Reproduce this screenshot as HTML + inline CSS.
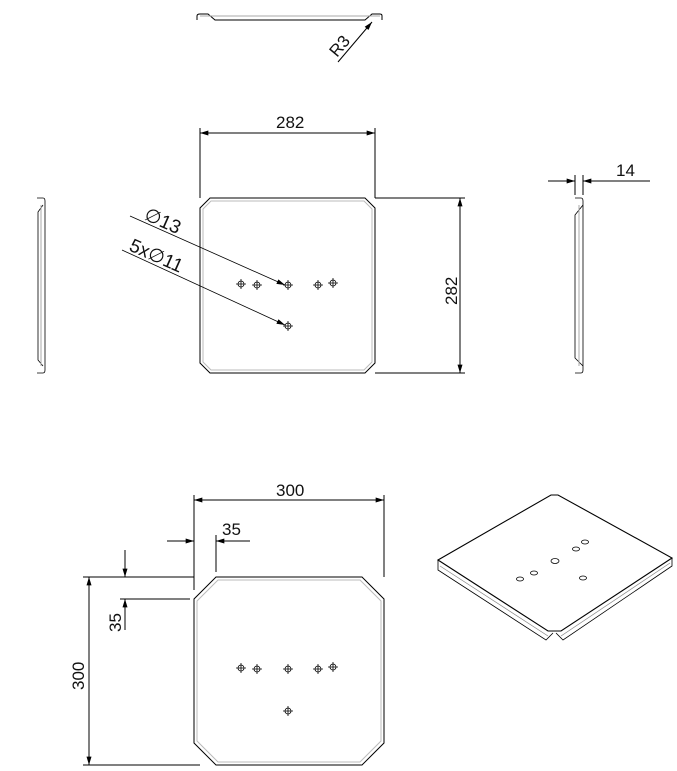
<!DOCTYPE html><html><head><style>body{margin:0;background:#fff}svg{display:block}text{font-family:"Liberation Sans",sans-serif;fill:#111}</style></head><body>
<svg width="677" height="771" viewBox="0 0 677 771" xmlns="http://www.w3.org/2000/svg">
<defs><marker id="a" viewBox="0 0 10 6" refX="10" refY="3" markerWidth="12" markerHeight="5" orient="auto-start-reverse" markerUnits="userSpaceOnUse"><path d="M0,0L10,3L0,6z" fill="#000"/></marker>
<g id="h"><circle r="3" fill="none" stroke="#000" stroke-width="0.8"/><path d="M-5,0H5M0,-5V5" stroke="#000" stroke-width="0.8"/></g></defs>
<g fill="none" stroke="#000" stroke-width="1">
<path d="M197,20V16Q197,14 200,14H208L215,20H365L372,14H380Q382,14 382,16V20" />
<path d="M200,16H380" stroke="#aaa"/>
<path d="M338,62L372,22" marker-end="url(#a)"/>
<path d="M210,198H365L375,208V363L365,373H210L200,363V208Z"/>
<path d="M211,201H364L372,209V362L364,370H211L203,362V209Z" stroke="#bbb"/>
<path d="M200,128V198M375,128V198"/>
<path d="M200,133H375" marker-start="url(#a)" marker-end="url(#a)"/>
<path d="M375,198H465M375,373H465"/>
<path d="M460,198V373" marker-start="url(#a)" marker-end="url(#a)"/>
<path d="M130,216L285,285" marker-end="url(#a)" stroke-width="0.8"/>
<path d="M122,250L285,325" marker-end="url(#a)" stroke-width="0.8"/>
<path d="M37,198H43Q45,198 45,201V370Q45,373 43,373H37M43,205L38,212V360L43,366" stroke-width="0.8"/>
<path d="M41,205V366" stroke="#aaa"/>
<path d="M575,198H581Q583,198 583,201V370Q583,373 581,373H575M583,205L575,215V358L583,366" stroke-width="0.8"/>
<path d="M579,205V366" stroke="#aaa"/>
<path d="M575,175V195M583,175V195"/>
<path d="M548,181H575" marker-end="url(#a)"/><path d="M650,181H583" marker-end="url(#a)"/>
<path d="M216,577H362L384,599V743L362,765H216L194,743V599Z"/>
<path d="M218,580H360L381,601V741L360,762H218L197,741V601Z" stroke="#bbb"/>
<path d="M194,495V590M384,495V577"/>
<path d="M194,500H384" marker-start="url(#a)" marker-end="url(#a)"/>
<path d="M216,535V572"/>
<path d="M167,541H194" marker-end="url(#a)"/><path d="M250,541H216" marker-end="url(#a)"/>
<path d="M83,577H194M83,765H200"/>
<path d="M89,577V765" marker-start="url(#a)" marker-end="url(#a)"/>
<path d="M120,599H190"/>
<path d="M125,550V577" marker-end="url(#a)"/><path d="M125,630V599" marker-end="url(#a)"/>
<path d="M438,560L551,495H558L672,558L561,631H548Z" stroke-width="1.1"/>
<path d="M438,560V570L546,640L553,633M672,558V566L563,640L556,633" stroke-width="0.8"/>
<path d="M440,566L548,636M670,563L561,636" stroke="#888" stroke-width="0.7"/>
</g>
<g fill="none" stroke="#000" stroke-width="0.8">
<ellipse cx="520" cy="579" rx="3.5" ry="2"/><ellipse cx="534" cy="573" rx="3.5" ry="2"/><ellipse cx="555" cy="561" rx="4" ry="2.5"/><ellipse cx="576" cy="549" rx="3.5" ry="2"/><ellipse cx="585" cy="542" rx="3.5" ry="2"/><ellipse cx="583" cy="578" rx="3.5" ry="2"/>
</g>
<use href="#h" x="241" y="284"/><use href="#h" x="257" y="285"/><use href="#h" x="288" y="285"/><use href="#h" x="318" y="285"/><use href="#h" x="333" y="283"/><use href="#h" x="288" y="326"/>
<use href="#h" x="241" y="668"/><use href="#h" x="257" y="669"/><use href="#h" x="288" y="669"/><use href="#h" x="318" y="669"/><use href="#h" x="333" y="667"/><use href="#h" x="288" y="711"/>
<g font-size="17">
<text x="337" y="58" transform="rotate(-50 337 58)">R3</text>
<text x="276" y="128">282</text>
<text x="457" y="305" transform="rotate(-90 457 305)">282</text>
<text x="616" y="176">14</text>
<text x="143" y="219" transform="rotate(24 143 219)" font-size="19">∅13</text>
<text x="128" y="250" transform="rotate(24 128 250)" font-size="19">5x∅11</text>
<text x="276" y="496">300</text>
<text x="222" y="535">35</text>
<text x="84" y="690" transform="rotate(-90 84 690)">300</text>
<text x="121" y="632" transform="rotate(-90 121 632)">35</text>
</g>
</svg></body></html>
